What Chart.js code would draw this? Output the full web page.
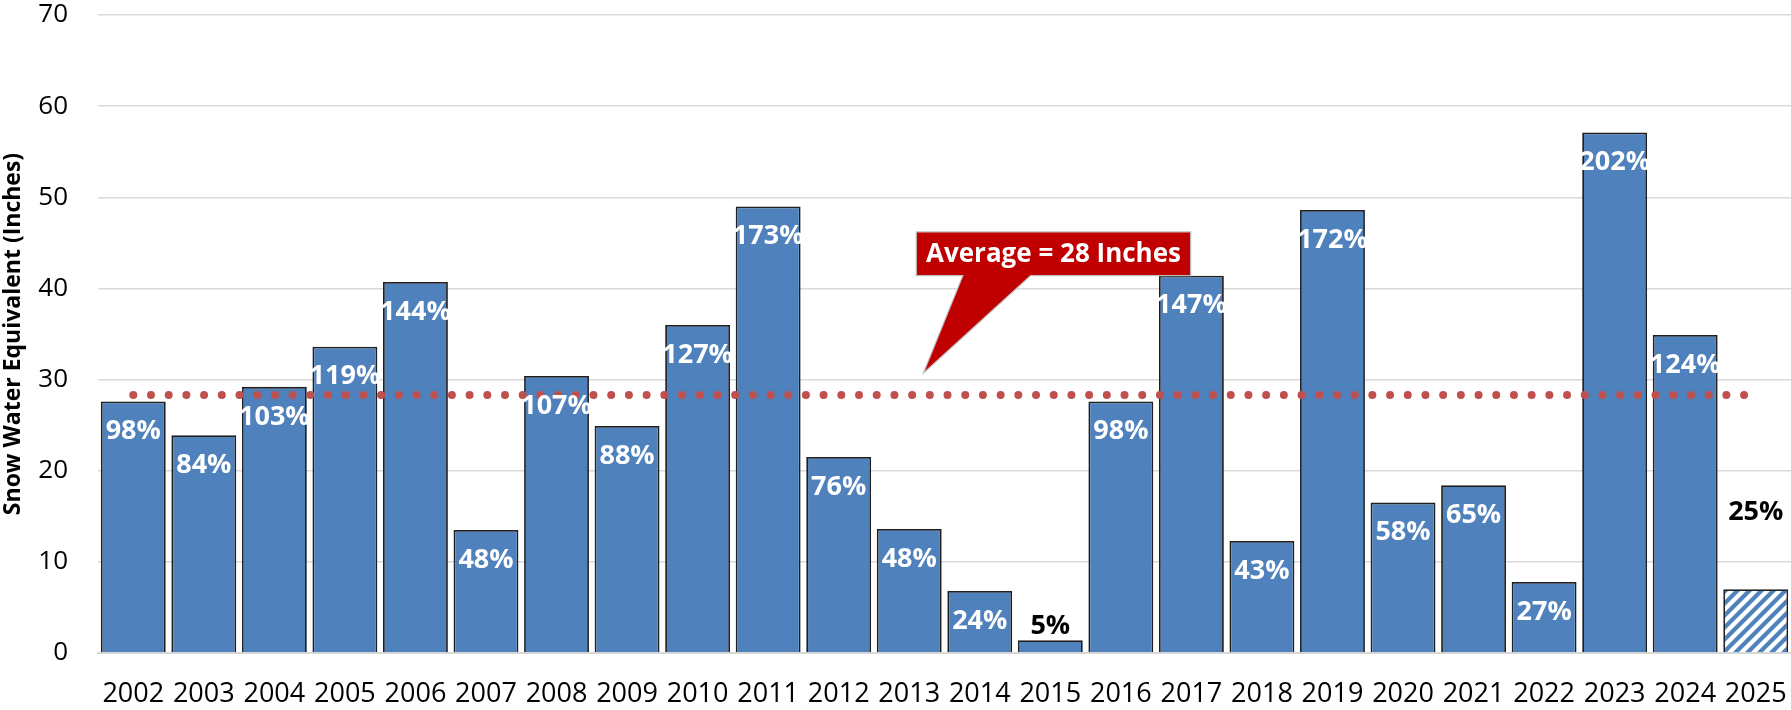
<!DOCTYPE html>
<html>
<head>
<meta charset="utf-8">
<script src="https://cdn.jsdelivr.net/npm/chart.js@4/dist/chart.umd.min.js"></script>
<style>
  html, body { margin: 0; padding: 0; background: #fff; }
  #wrap { width: 1791px; height: 710px; }
</style>
</head>
<body>
<div id="wrap"><canvas id="grafico"></canvas></div>
<script>
// datos
const years = ["2002","2003","2004","2005","2006","2007","2008","2009","2010","2011","2012","2013",
  "2014","2015","2016","2017","2018","2019","2020","2021","2022","2023","2024","2025"]
const swe = [27.6, 23.9, 29.2, 33.6, 40.7, 13.5, 30.4, 24.9, 36.0, 49.0, 21.5, 13.6,
  6.8, 1.4, 27.6, 41.4, 12.3, 48.6, 16.5, 18.4, 7.8, 57.1, 34.9, 7.0]
const pctOfAvg = [98, 84, 103, 119, 144, 48, 107, 88, 127, 173, 76, 48,
  24, 5, 98, 147, 43, 172, 58, 65, 27, 202, 124, 25]
const average = 28.3
const averageText = "Average = 28 Inches"
const yTicks = [0, 10, 20, 30, 40, 50, 60, 70]

const azul = "#4F81BD"

// patron rayado para el año en curso
const rayado = (() => {
  const c = document.createElement("canvas")
  c.width = 12
  c.height = 12
  const g = c.getContext("2d")
  g.fillStyle = "#fff"
  g.fillRect(0, 0, 12, 12)
  g.strokeStyle = azul
  g.lineWidth = 4.2
  g.beginPath()
  g.moveTo(-6, 6); g.lineTo(6, -6)
  g.moveTo(0, 12); g.lineTo(12, 0)
  g.moveTo(6, 18); g.lineTo(18, 6)
  g.stroke()
  return g.createPattern(c, "repeat")
})()

const colores = years.map((y, i) => i == years.length - 1 ? rayado : azul)

const etiquetas = {
  id: "etiquetas",
  afterDatasetsDraw(chart) {
    const ctx = chart.ctx
    const meta = chart.getDatasetMeta(1)
    ctx.save()
    ctx.font = "bold 27px 'Open Sans'"
    ctx.textAlign = "center"
    ctx.textBaseline = "middle"
    meta.data.forEach((bar, i) => {
      const alto = bar.base - bar.y
      if (i == meta.data.length - 1) {
        ctx.fillStyle = "#000"
        ctx.fillText(pctOfAvg[i] + "%", bar.x, bar.y - 77)
      } else if (alto < 40) {
        ctx.fillStyle = "#000"
        ctx.fillText(pctOfAvg[i] + "%", bar.x, bar.y - 14)
      } else {
        ctx.fillStyle = "#fff"
        ctx.fillText(pctOfAvg[i] + "%", bar.x, bar.y + 30)
      }
    })
    ctx.restore()
  }
}

const globo = {
  id: "globo",
  afterDatasetsDraw(chart) {
    const ctx = chart.ctx
    const x = chart.scales.x
    const y = chart.scales.y
    const L = x.getPixelForValue(11.10), R = x.getPixelForValue(14.99)
    const T = y.getPixelForValue(46.2), B = y.getPixelForValue(41.4)
    const b1 = x.getPixelForValue(11.76), b2 = x.getPixelForValue(12.72)
    const tx = x.getPixelForValue(11.20), ty = y.getPixelForValue(30.7)
    ctx.save()
    ctx.beginPath()
    ctx.moveTo(L, T)
    ctx.lineTo(R, T)
    ctx.lineTo(R, B)
    ctx.lineTo(b2, B)
    ctx.lineTo(tx, ty)
    ctx.lineTo(b1, B)
    ctx.lineTo(L, B)
    ctx.closePath()
    ctx.fillStyle = "#C00000"
    ctx.fill()
    ctx.strokeStyle = "#bfbfbf"
    ctx.lineWidth = 1.2
    ctx.stroke()
    ctx.fillStyle = "#fff"
    ctx.font = "bold 100px 'Open Sans'"
    const w = ctx.measureText(averageText).width
    const size = Math.floor(100 * (R - L - 18) / w)
    ctx.font = "bold " + size + "px 'Open Sans'"
    ctx.textAlign = "center"
    ctx.textBaseline = "middle"
    ctx.fillText(averageText, (L + R) / 2, (T + B) / 2 + 1)
    ctx.restore()
  }
}

const data = {
  labels: years,
  datasets: [
    {
      type: "line",
      label: "Average",
      data: years.map(() => average),
      borderColor: "#C0504D",
      borderWidth: 8,
      borderDash: [0.001, 17.7],
      borderCapStyle: "round",
      pointRadius: 0,
      fill: false,
      order: 0
    },
    {
      type: "bar",
      label: "SWE",
      data: swe,
      backgroundColor: colores,
      borderColor: "#1f1f1f",
      borderWidth: 1.8,
      categoryPercentage: 1,
      barPercentage: 0.92,
      order: 1
    }
  ]
}

const config = {
  data: data,
  options: {
    responsive: false,
    animation: false,
    layout: { padding: 0 },
    plugins: {
      legend: { display: false },
      tooltip: { enabled: false },
      title: { display: false }
    },
    scales: {
      x: {
        grid: { display: false, drawTicks: false },
        border: { display: true, color: "#d9d9d9", width: 2 },
        ticks: {
          color: "#000",
          font: { family: "'Open Sans'", size: 27 },
          padding: 25,
          maxRotation: 0,
          autoSkip: false
        },
        afterFit: (s) => {
          s.height = 57
          s.paddingLeft = 0
          s.paddingRight = 0
        }
      },
      y: {
        min: 0,
        max: 70,
        afterBuildTicks: (s) => { s.ticks = yTicks.map(v => ({ value: v })) },
        grid: { color: "#d9d9d9", lineWidth: 1.5, drawTicks: false },
        border: { display: false },
        ticks: {
          color: "#000",
          font: { family: "'Open Sans'", size: 26 },
          padding: 30
        },
        title: {
          display: true,
          text: "Snow Water Equivalent (Inches)",
          color: "#000",
          font: { family: "'Open Sans'", size: 23, weight: "bold" },
          padding: { top: 0, bottom: 0 }
        },
        afterFit: (s) => {
          s.width = 98
          s.paddingTop = 15
          s.paddingBottom = 0
        }
      }
    }
  },
  plugins: [etiquetas, globo]
}

const canvas = document.getElementById("grafico")
canvas.width = 1791
canvas.height = 710
const myChart = new Chart(canvas, config)
</script>
</body>
</html>
